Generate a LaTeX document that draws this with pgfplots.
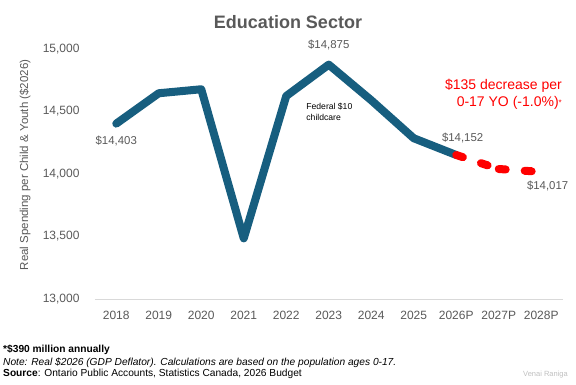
\documentclass[border=0pt]{standalone}
\usepackage{fontspec}
\setmainfont{Liberation Sans}
\usepackage{pgfplots}
\pgfplotsset{compat=1.18}
\definecolor{edublue}{HTML}{175E7F}
\definecolor{txtgray}{HTML}{595959}
\definecolor{axgray}{HTML}{D9D9D9}
\begin{document}
\begin{tikzpicture}[x=1pt,y=1pt]
\useasboundingbox (0,0) rectangle (576,384);
\begin{axis}[
  at={(95pt,85pt)}, anchor=south west,
  scale only axis, width=467.5pt, height=250pt,
  xmin=-0.5, xmax=10.5, ymin=13000, ymax=15000,
  clip=false,
  separate axis lines,
  axis lines*=left,
  x axis line style={draw=axgray, line width=0.8pt, -},
  y axis line style={draw=none, -},
  major tick length=0pt,
  xtick={0,...,10},
  xticklabels={2018,2019,2020,2021,2022,2023,2024,2025,2026P,2027P,2028P},
  ytick={13000,13500,14000,14500,15000},
  scaled y ticks=false,
  /pgf/number format/assume math mode=true,
  /pgf/number format/1000 sep={,},
  ticklabel style={font=\fontsize{12}{14}\selectfont, text=txtgray},
  xticklabel style={yshift=-9pt},
  yticklabel style={xshift=-12pt},
]
\addplot[edublue, line width=8pt, line join=round, line cap=round] coordinates {
 (0,14403) (1,14646) (2,14678) (3,13485) (4,14624) (5,14875) (6,14590) (7,14286) (8,14152)};
\addplot[red, line width=8pt, line cap=round, dash pattern=on 7pt off 19pt] coordinates {
 (8,14152) (9,14040)};
\addplot[red, line width=8pt, line cap=round, dash pattern=on 7pt off 19pt] coordinates {
 (9,14040) (10,14017)};
\node[font=\fontsize{11.4}{13}\selectfont, text=txtgray] at (axis cs:0,14260) {\$14,403};
\node[font=\fontsize{11.4}{13}\selectfont, text=txtgray] at (axis cs:5,15030) {\$14,875};
\node[font=\fontsize{11.4}{13}\selectfont, text=txtgray] at (axis cs:8.15,14285) {\$14,152};
\node[font=\fontsize{11.4}{13}\selectfont, text=txtgray] at (axis cs:10.15,13900) {\$14,017};
\node[font=\fontsize{8.6}{11}\selectfont, anchor=west, align=left, inner sep=0pt] at (axis cs:4.47,14500) {Federal \$10\\childcare};
\end{axis}
\node[font=\fontsize{18}{21}\selectfont\bfseries, text=txtgray] at (288,362) {Education Sector};
\node[font=\fontsize{11.5}{13}\selectfont, text=txtgray, rotate=90] at (25,219) {Real Spending per Child \& Youth (\$2026)};
\node[font=\fontsize{14}{17}\selectfont, text=red, anchor=east, align=right, inner sep=0pt] at (562,290) {\$135 decrease per\\0-17 YO (-1.0\%)\raisebox{1pt}{\fontsize{8}{9}\selectfont*}};
\node[font=\fontsize{10.2}{12}\selectfont\bfseries, anchor=west, inner sep=0pt] at (3,34) {*\$390 million annually};
\node[font=\fontsize{10.2}{12}\selectfont\itshape, anchor=west, inner sep=0pt] at (3,21) {Note: Real \$2026 (GDP Deflator). Calculations are based on the population ages 0-17.};
\node[font=\fontsize{10.2}{12}\selectfont, anchor=west, inner sep=0pt] at (3,10) {\textbf{Source}: Ontario Public Accounts, Statistics Canada, 2026 Budget};
\node[font=\fontsize{7.5}{8}\selectfont, text=black!25, anchor=east, inner sep=0pt] at (568,9) {Venai Raniga};
\end{tikzpicture}
\end{document}
